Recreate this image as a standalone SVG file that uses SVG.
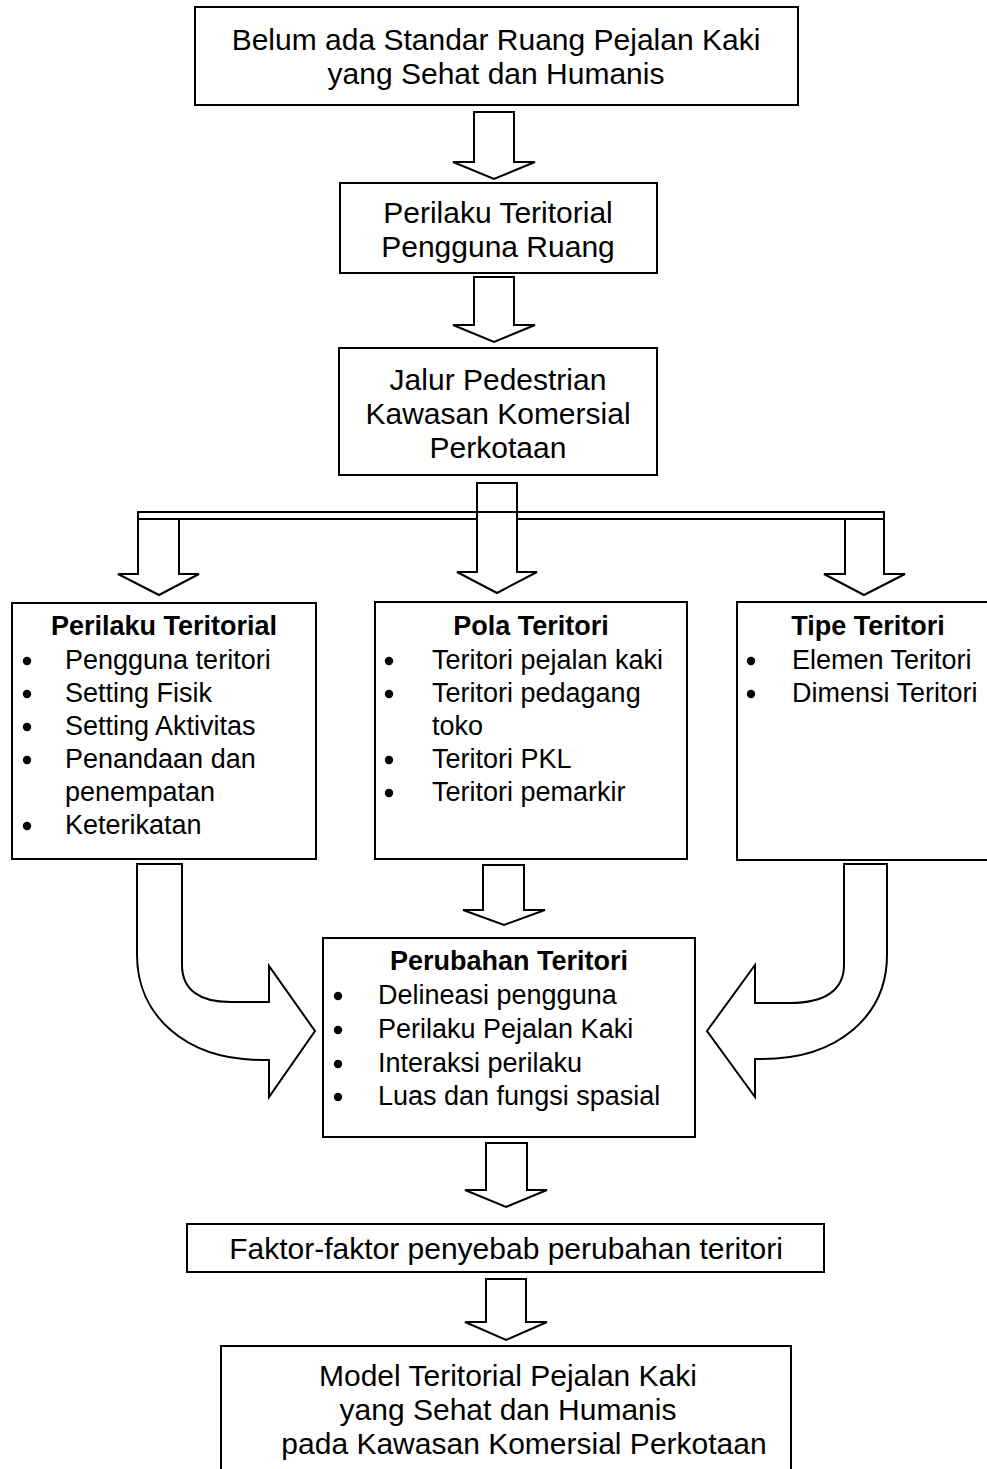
<svg xmlns="http://www.w3.org/2000/svg" width="987" height="1469" viewBox="0 0 987 1469">
<style>
.box{fill:#fff;stroke:#000;stroke-width:2}
.arr{fill:#fff;stroke:#000;stroke-width:2;stroke-linejoin:miter}
.t{font-family:"Liberation Sans",Arial,sans-serif;font-size:30px;fill:#000;text-anchor:middle}
.l{font-family:"Liberation Sans",Arial,sans-serif;font-size:27px;fill:#000}
.b{font-family:"Liberation Sans",Arial,sans-serif;font-size:27px;font-weight:bold;fill:#000;text-anchor:middle}
.d{fill:#000}
</style>
<defs><circle id="dot" r="4.2" cx="0" cy="0"/></defs>
<rect width="987" height="1469" fill="#fff"/>
<g id="connectors">
<path class="arr" d="M474,112 L514,112 L514,162 L535,162 L494,179 L453,162 L474,162 Z"/>
<path class="arr" d="M474,277 L514,277 L514,325 L535,325 L494,342 L453,325 L474,325 Z"/>
<path class="arr" d="M138,512 L179,512 L179,574 L199,574 L159,595 L118,574 L138,574 Z"/>
<path class="arr" d="M845,512 L884,512 L884,574 L905,574 L864,595 L824,574 L845,574 Z"/>
<rect class="arr" x="138" y="512" width="746" height="7"/>
<path class="arr" d="M477,483 L517,483 L517,572 L537,572 L497,593 L457,572 L477,572 Z"/>
<line x1="477" y1="512" x2="517" y2="512" stroke="#000" stroke-width="2"/>
<path class="arr" d="M483,865 L524,865 L524,910 L545,910 L504,925 L463,910 L483,910 Z"/>
<path class="arr" d="M486,1143 L527,1143 L527,1190 L547,1190 L506,1207 L465,1190 L486,1190 Z"/>
<path class="arr" d="M486,1279 L526,1279 L526,1322 L547,1322 L506,1340 L465,1322 L486,1322 Z"/>
<path class="arr" d="M137,864 L137,955 C137,1015 185,1060 262,1060 L269,1060 L269,1097 L315,1031 L269,966 L269,1002 L230,1002 C200,1002 182,990 182,965 L182,864 Z"/>
<path class="arr" d="M887,864 L887,955 C887,1015 839,1059 762,1059 L755,1059 L755,1097 L707,1031 L755,965 L755,1003 L790,1003 C825,1003 844,990 844,965 L844,864 Z"/>
</g>
<g id="n1">
<rect class="box" x="195" y="7" width="603" height="98"/>
<text class="t" x="496" y="50">Belum ada Standar Ruang Pejalan Kaki</text>
<text class="t" x="496" y="84">yang Sehat dan Humanis</text>
</g>
<g id="n2">
<rect class="box" x="340" y="183" width="317" height="90"/>
<text class="t" x="498" y="223">Perilaku Teritorial</text>
<text class="t" x="498" y="257">Pengguna Ruang</text>
</g>
<g id="n3">
<rect class="box" x="339" y="348" width="318" height="127"/>
<text class="t" x="498" y="390">Jalur Pedestrian</text>
<text class="t" x="498" y="424">Kawasan Komersial</text>
<text class="t" x="498" y="458">Perkotaan</text>
</g>
<g id="n4">
<rect class="box" x="12" y="603" width="304" height="256"/>
<text class="b" x="164" y="635">Perilaku Teritorial</text>
<g class="d">
<use href="#dot" x="27" y="661"/><use href="#dot" x="27" y="694"/><use href="#dot" x="27" y="727"/><use href="#dot" x="27" y="760"/><use href="#dot" x="27" y="826"/>
</g>
<g class="l">
<text x="65" y="669">Pengguna teritori</text>
<text x="65" y="702">Setting Fisik</text>
<text x="65" y="735">Setting Aktivitas</text>
<text x="65" y="768">Penandaan dan</text>
<text x="65" y="801">penempatan</text>
<text x="65" y="834">Keterikatan</text>
</g>
</g>
<g id="n5">
<rect class="box" x="375" y="602" width="312" height="257"/>
<text class="b" x="531" y="635">Pola Teritori</text>
<g class="d">
<use href="#dot" x="389" y="661"/><use href="#dot" x="389" y="694"/><use href="#dot" x="389" y="760"/><use href="#dot" x="389" y="793"/>
</g>
<g class="l">
<text x="432" y="669">Teritori pejalan kaki</text>
<text x="432" y="702">Teritori pedagang</text>
<text x="432" y="735">toko</text>
<text x="432" y="768">Teritori PKL</text>
<text x="432" y="801">Teritori pemarkir</text>
</g>
</g>
<g id="n6">
<rect class="box" x="737" y="602" width="265" height="258"/>
<text class="b" x="868" y="635">Tipe Teritori</text>
<g class="d">
<use href="#dot" x="751" y="661"/><use href="#dot" x="751" y="694"/>
</g>
<g class="l">
<text x="792" y="669">Elemen Teritori</text>
<text x="792" y="702">Dimensi Teritori</text>
</g>
</g>
<g id="n7">
<rect class="box" x="323" y="938" width="372" height="199"/>
<text class="b" x="509" y="970">Perubahan Teritori</text>
<g class="d">
<use href="#dot" x="338" y="996"/><use href="#dot" x="338" y="1030"/><use href="#dot" x="338" y="1064"/><use href="#dot" x="338" y="1097"/>
</g>
<g class="l">
<text x="378" y="1004">Delineasi pengguna</text>
<text x="378" y="1038">Perilaku Pejalan Kaki</text>
<text x="378" y="1072">Interaksi perilaku</text>
<text x="378" y="1105">Luas dan fungsi spasial</text>
</g>
</g>
<g id="n8">
<rect class="box" x="187" y="1224" width="637" height="48"/>
<text class="t" x="506" y="1259">Faktor-faktor penyebab perubahan teritori</text>
</g>
<g id="n9">
<rect class="box" x="221" y="1346" width="570" height="140"/>
<text class="t" x="508" y="1386">Model Teritorial Pejalan Kaki</text>
<text class="t" x="508" y="1420">yang Sehat dan Humanis</text>
<text class="t" x="524" y="1454">pada Kawasan Komersial Perkotaan</text>
</g>
</svg>
